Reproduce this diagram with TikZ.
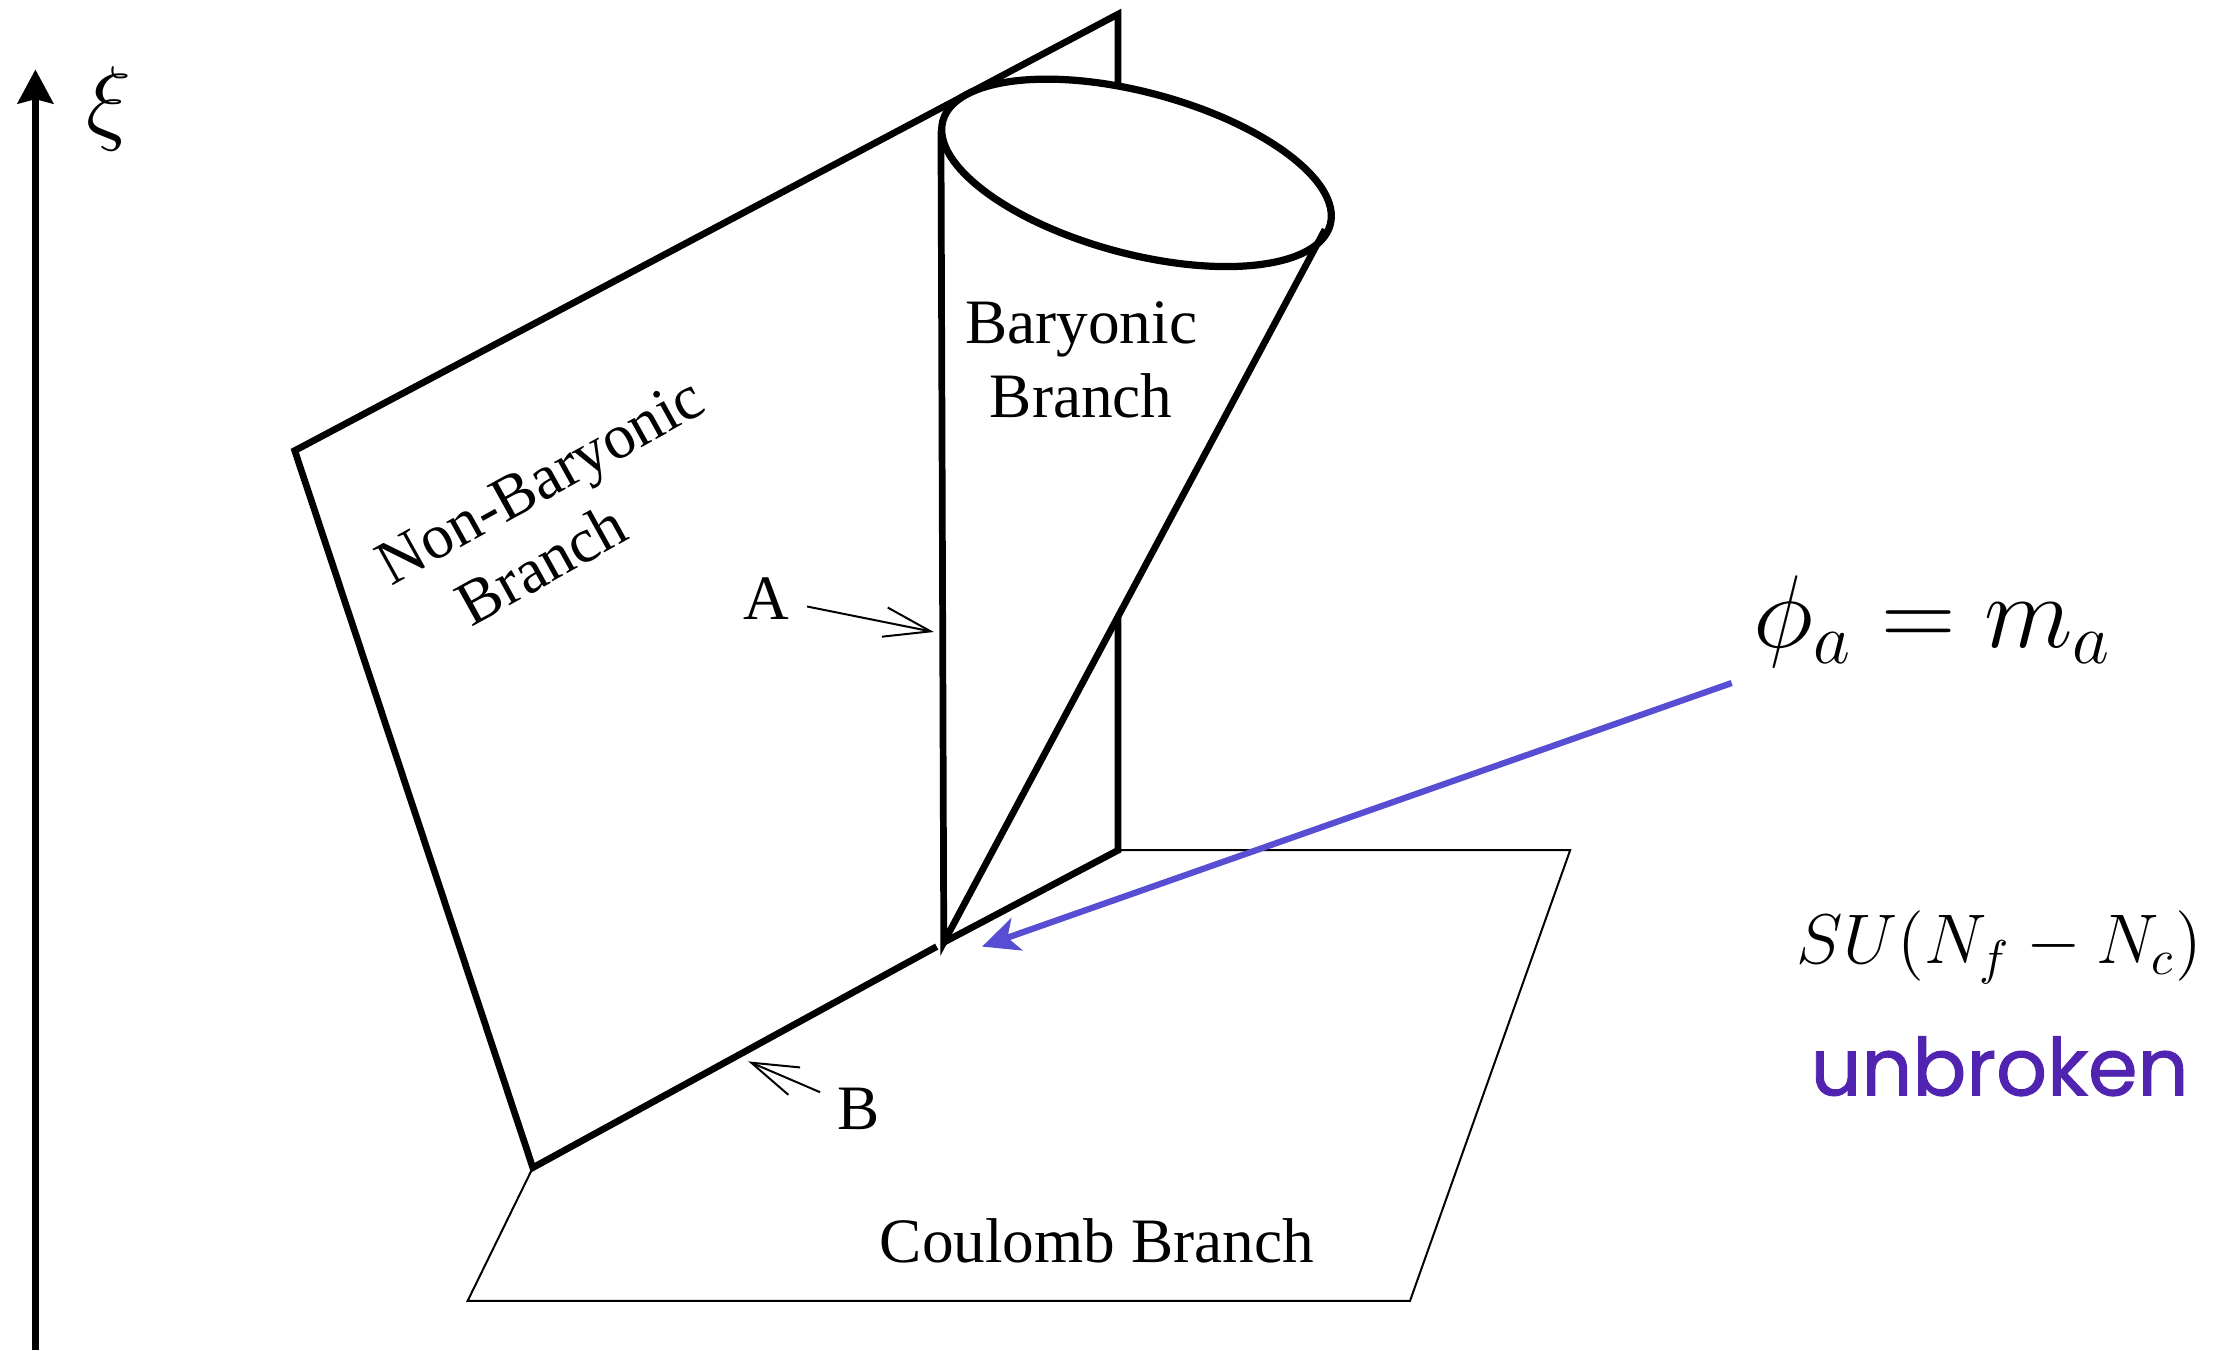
\documentclass[tikz,border=0pt]{standalone}
\usepackage{graphicx}
\usepackage{fontspec}
\setmainfont{Liberation Serif}
\newfontfamily\unbrokenfont[FakeBold=1.2]{Poppins}
\usepackage{tikz}
\usetikzlibrary{arrows.meta}
\definecolor{arrcol}{RGB}{88,78,212}
\definecolor{unbrcol}{RGB}{80,36,176}

\begin{document}
\begin{tikzpicture}[x=0.1mm, y=-0.1mm,
  plane/.style={line width=1.35pt, line join=miter},
  floor/.style={line width=0.4pt},
  lbl/.style={font=\fontsize{12.7}{15}\selectfont, align=center},
  pt/.style={-{Straight Barb[length=3.3mm, width=2.1mm]}, line width=0.4pt},
  ar/.style={-{Stealth[length=2.6mm, width=2.4mm, inset=0.7mm]}, line width=1.25pt, arrcol}
]
\useasboundingbox (0,0) rectangle (1568,953);

% axis
\coordinate (axbot) at (25,953);
\coordinate (axtop) at (25,49);
\draw[-{Stealth[length=2.4mm, width=2.5mm, inset=0.3mm]}, line width=1.4pt] (axbot) -- (axtop);
\node[font=\fontsize{17.28}{21}\selectfont] (xi) at (77,77) {\scalebox{1.1}{$\xi$}};

% corners
\coordinate (nb1) at (208,318);
\coordinate (nb2) at (789,10);
\coordinate (nb3) at (789,600);
\coordinate (nb4) at (376,824);
\coordinate (apex) at (666,665);
\coordinate (ctop) at (802,122);
\coordinate (cleft) at (664,92);
\coordinate (cright) at (935,162);

% Coulomb branch
\draw[floor] (nb4) -- (330,918) -- (995,918) -- (1108,600) -- (nb3);

% non-baryonic plane
\draw[plane] (661,668) -- (nb4) -- (nb1) -- (nb2) -- (nb3) -- (apex);

% baryonic cone
\fill[white] (cleft) -- (apex) -- (cright) -- cycle;
\fill[white, rotate around={-15:(ctop)}] (ctop) ellipse (141.5 and 57);
\draw[plane] (cleft) -- (apex) -- (cright);
\draw[plane, line width=1.45pt, rotate around={-15:(ctop)}] (ctop) ellipse (141.5 and 57);

\node[lbl, rotate=29] (nonbar) at (394,362) {Non-Baryonic\\Branch\hspace*{5.6mm}};
\node[lbl] (bar) at (763,254) {Baryonic\\Branch};
\node[lbl, anchor=base] (coul) at (774,891) {Coulomb Branch};

\node[lbl, anchor=base] (labA) at (541,437) {A};
\node[lbl, anchor=base] (labB) at (606,797) {B};
\coordinate (tipA) at (659,446);
\coordinate (tipB) at (528,749);
\draw[pt] (labA) -- (tipA);
\draw[pt] (labB) -- (tipB);

% phi = m
\node[font=\fontsize{20}{24}\selectfont, anchor=base] (phi) at (1364,457) {$\phi_a = m_a$};
\coordinate (bstart) at (1222,482);
\coordinate (btip) at (693,668);
\draw[ar] (bstart) -- (btip);

\node[font=\fontsize{14.4}{17}\selectfont, anchor=base] (su) at (1411,680) {\scalebox{0.98}{$SU(N_f-N_c)$}};
\node[font=\unbrokenfont\fontsize{16}{19}\selectfont, text=unbrcol, anchor=base] (unbr) at (1411,773) {unbroken};

\end{tikzpicture}
\end{document}
